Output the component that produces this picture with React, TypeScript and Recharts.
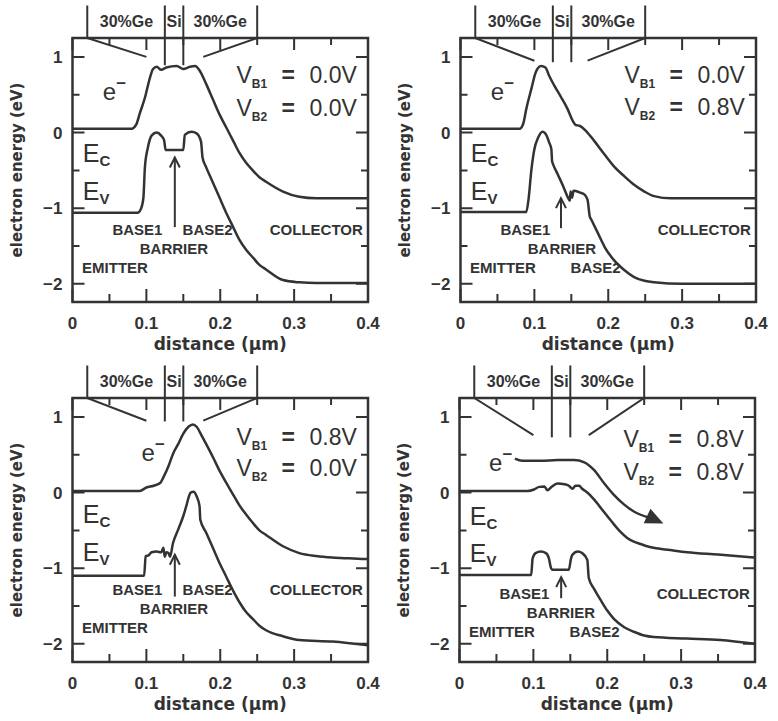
import React from "react";
import { Line, LineChart, ReferenceArea, ReferenceDot, ReferenceLine, XAxis, YAxis } from "recharts";

type Pair = [number, number];

// distance (um), energy (eV)
const ec1: Pair[] = [
  [0, 0.05], [0.08, 0.05], [0.086, 0.1], [0.091, 0.25], [0.098, 0.46], [0.105, 0.73], [0.109, 0.84],
  [0.114, 0.87], [0.12, 0.83], [0.127, 0.86], [0.141, 0.88], [0.15, 0.84], [0.159, 0.87], [0.166, 0.88],
  [0.172, 0.82], [0.181, 0.64], [0.19, 0.44], [0.199, 0.24], [0.208, 0.07], [0.217, -0.1], [0.226, -0.27],
  [0.235, -0.4], [0.244, -0.5], [0.253, -0.59], [0.262, -0.65], [0.285, -0.78], [0.307, -0.85], [0.33, -0.87],
  [0.4, -0.87],
];
const ev1: Pair[] = [
  [0, -1.06], [0.088, -1.06], [0.093, -1.0], [0.096, -0.86], [0.098, -0.46], [0.102, -0.2], [0.107, -0.04],
  [0.114, 0.0], [0.12, -0.04], [0.124, -0.1], [0.126, -0.23], [0.15, -0.23], [0.152, -0.03], [0.161, 0.01],
  [0.168, -0.01], [0.174, -0.12], [0.176, -0.33], [0.181, -0.46], [0.19, -0.66], [0.199, -0.86], [0.208, -1.06],
  [0.217, -1.24], [0.226, -1.42], [0.235, -1.55], [0.245, -1.66], [0.253, -1.75], [0.262, -1.81], [0.285, -1.95],
  [0.307, -1.98], [0.33, -1.99], [0.4, -1.99],
];
const ec2: Pair[] = [
  [0, 0.05], [0.08, 0.05], [0.085, 0.12], [0.089, 0.31], [0.096, 0.58], [0.102, 0.8], [0.109, 0.88],
  [0.115, 0.86], [0.12, 0.75], [0.127, 0.62], [0.136, 0.47], [0.145, 0.31], [0.152, 0.155], [0.156, 0.1],
  [0.161, 0.09], [0.17, 0.02], [0.181, -0.11], [0.195, -0.29], [0.208, -0.45], [0.222, -0.58], [0.235, -0.69],
  [0.249, -0.78], [0.262, -0.84], [0.285, -0.87], [0.4, -0.87],
];
const ev2: Pair[] = [
  [0, -1.05], [0.089, -1.05], [0.092, -0.89], [0.096, -0.49], [0.1, -0.22], [0.105, -0.07], [0.111, 0.01],
  [0.116, -0.03], [0.12, -0.13], [0.123, -0.22], [0.124, -0.38], [0.125, -0.41], [0.132, -0.56], [0.139, -0.71],
  [0.145, -0.85], [0.148, -0.9], [0.149, -0.78], [0.151, -0.86], [0.153, -0.77], [0.161, -0.79], [0.168, -0.82],
  [0.172, -0.89], [0.175, -1.11], [0.177, -1.15], [0.186, -1.33], [0.195, -1.51], [0.208, -1.69], [0.222, -1.82],
  [0.235, -1.91], [0.249, -1.96], [0.262, -1.98], [0.3, -2.0], [0.4, -2.0],
];
const ec3: Pair[] = [
  [0, 0.02], [0.091, 0.02], [0.1, 0.067], [0.11, 0.09], [0.119, 0.13], [0.123, 0.2], [0.13, 0.35],
  [0.136, 0.51], [0.143, 0.64], [0.15, 0.78], [0.157, 0.87], [0.163, 0.9], [0.168, 0.87], [0.175, 0.75],
  [0.181, 0.64], [0.19, 0.47], [0.199, 0.29], [0.208, 0.13], [0.217, -0.02], [0.226, -0.17], [0.235, -0.29],
  [0.244, -0.4], [0.253, -0.5], [0.262, -0.56], [0.285, -0.71], [0.307, -0.8], [0.33, -0.84], [0.352, -0.86],
  [0.374, -0.87], [0.4, -0.88],
];
const ev3: Pair[] = [
  [0, -1.1], [0.097, -1.1], [0.099, -0.84], [0.103, -0.83], [0.107, -0.79], [0.114, -0.78], [0.12, -0.79],
  [0.123, -0.73], [0.125, -0.85], [0.127, -0.79], [0.13, -0.8], [0.132, -0.85], [0.136, -0.67], [0.143, -0.49],
  [0.15, -0.31], [0.154, -0.18], [0.157, -0.07], [0.16, 0.0], [0.164, 0.01], [0.168, -0.05], [0.172, -0.18],
  [0.173, -0.36], [0.181, -0.53], [0.19, -0.73], [0.199, -0.93], [0.208, -1.11], [0.217, -1.29], [0.226, -1.45],
  [0.235, -1.58], [0.244, -1.67], [0.253, -1.76], [0.262, -1.82], [0.285, -1.9], [0.307, -1.95], [0.352, -1.97],
  [0.4, -2.02],
];
const ec4: Pair[] = [
  [0, 0.02], [0.092, 0.02], [0.101, 0.04], [0.108, 0.075], [0.115, 0.08], [0.119, 0.03], [0.124, 0.07],
  [0.133, 0.12], [0.142, 0.11], [0.148, 0.09], [0.153, 0.05], [0.157, 0.09], [0.162, 0.09], [0.166, 0.05],
  [0.173, 0.0], [0.182, -0.09], [0.191, -0.2], [0.2, -0.31], [0.209, -0.42], [0.218, -0.52], [0.227, -0.6],
  [0.236, -0.65], [0.245, -0.68], [0.254, -0.71], [0.263, -0.73], [0.285, -0.76], [0.308, -0.79], [0.35, -0.82],
  [0.4, -0.86],
];
const ev4: Pair[] = [
  [0, -1.09], [0.097, -1.09], [0.099, -0.87], [0.103, -0.8], [0.11, -0.78], [0.117, -0.8], [0.121, -0.87],
  [0.124, -1.0], [0.126, -1.02], [0.148, -1.02], [0.151, -0.87], [0.153, -0.82], [0.16, -0.78], [0.166, -0.8],
  [0.173, -0.89], [0.175, -1.13], [0.182, -1.27], [0.191, -1.42], [0.2, -1.56], [0.209, -1.67], [0.223, -1.78],
  [0.236, -1.84], [0.25, -1.89], [0.263, -1.91], [0.308, -1.93], [0.353, -1.95], [0.4, -2.0],
];
// electron path drawn in the last panel
const path4: Pair[] = [
  [0.075, 0.45], [0.085, 0.42], [0.11, 0.42], [0.133, 0.43], [0.155, 0.43], [0.169, 0.4], [0.182, 0.3],
  [0.196, 0.12], [0.209, -0.03], [0.223, -0.16], [0.236, -0.25], [0.256, -0.33],
];
const path4Tip: Pair = [0.276, -0.41];

// Ge grading marks at the top of each panel
const geLeft1: Pair[] = [[0.02, 1.25], [0.1, 1.0]];
const geRight1: Pair[] = [[0.177, 1.0], [0.25, 1.25]];
const geLeft2: Pair[] = [[0.02, 1.25], [0.1, 0.95]];
const geRight2: Pair[] = [[0.172, 0.95], [0.25, 1.25]];
const geLeft3: Pair[] = [[0.02, 1.25], [0.1, 0.95]];
const geRight3: Pair[] = [[0.177, 0.95], [0.25, 1.25]];
const geLeft4: Pair[] = [[0.02, 1.25], [0.1, 0.76]];
const geRight4: Pair[] = [[0.175, 0.76], [0.25, 1.25]];
const layerEdges = [0.02, 0.125, 0.15, 0.25];
const layerNames = ["30%Ge", "Si", "30%Ge"];
const layerCenters = [0.073, 0.1375, 0.2];

const biasB1 = ["0.0V", "0.0V", "0.8V", "0.8V"];
const biasB2 = ["0.0V", "0.8V", "0.0V", "0.8V"];

const xTicks = [0, 0.05, 0.1, 0.15, 0.2, 0.25, 0.3, 0.35, 0.4];
const yTicks = [-2, -1.5, -1, -0.5, 0, 0.5, 1];
const xDomain: Pair = [0, 0.4];
const yDomain: Pair = [-2.24, 1.25];

const toPts = (a: Pair[]) => a.map(([x, y]) => ({ x, y }));

const INK = "#333";
const FONT = "'Liberation Sans', Arial, Helvetica, sans-serif";
const TITLE_FONT = "'DejaVu Sans', Verdana, sans-serif";
const M = 10;
const TOP = 1.68;

const isMajorX = (v: number) => Math.abs(v * 10 - Math.round(v * 10)) < 1e-6;
const fmtX = (v: number) => (v === 0 ? "0" : v.toFixed(1));
const fmtY = (v: number) => (v < 0 ? "\u2212" + Math.abs(v) : String(v));

// tick labels only; the tick marks are drawn by reference lines below
const BottomTick = (p: any) => {
  const v = p.payload.value;
  if (!isMajorX(v)) return <g />;
  return (
    <text x={p.x} y={p.y - M + 27} textAnchor="middle" fontSize={17} fontWeight="bold" fontFamily={FONT} fill={INK}>
      {fmtX(v)}
    </text>
  );
};
const LeftTick = (p: any) => {
  const v = p.payload.value;
  if (!Number.isInteger(v)) return <g />;
  return (
    <text x={p.x + M - 10} y={p.y + 6} textAnchor="end" fontSize={17} fontWeight="bold" fontFamily={FONT} fill={INK}>
      {fmtY(v)}
    </text>
  );
};

// inward tick marks on both ends of a full-height / full-width reference line
const xMark = (major: boolean) => (p: any) => {
  const top = Math.min(p.y1, p.y2);
  const bot = Math.max(p.y1, p.y2);
  return (
    <path
      d={`M${p.x1},${bot}V${bot - (major ? 13 : 8)}M${p.x1},${top}V${top + (major ? 12 : 7)}`}
      stroke={INK} strokeWidth={2} fill="none"
    />
  );
};
const yMark = (major: boolean) => (p: any) => {
  const l = Math.min(p.x1, p.x2);
  const r = Math.max(p.x1, p.x2);
  const len = major ? 12 : 7;
  return <path d={`M${l},${p.y1}H${l + len}M${r},${p.y1}H${r - len}`} stroke={INK} strokeWidth={2} fill="none" />;
};

const word = (txt: string, size = 15, anchor = "start") => (p: any) => (
  <text x={p.cx} y={p.cy} fontSize={size} fontWeight="bold" fontFamily={FONT} fill={INK} textAnchor={anchor}>
    {txt}
  </text>
);
const band = (main: string, sub: string) => (p: any) => (
  <text x={p.cx} y={p.cy} fontSize={25} fontFamily={FONT} fill={INK}>
    {main}
    <tspan fontSize={15} fontWeight="bold" dy={4}>{sub}</tspan>
  </text>
);
const electron = (p: any) => (
  <text x={p.cx} y={p.cy} fontSize={24} fontFamily={FONT} fill={INK}>
    e<tspan fontSize={17} fontWeight="bold" dy={-11}>{"\u2212"}</tspan>
  </text>
);
const bias = (n: string, v: string) => (p: any) => (
  <text x={p.cx} y={p.cy} fontSize={23} fontFamily={FONT} fill={INK}>
    V
    <tspan fontSize={12} fontWeight="bold" dy={5}>{"B" + n}</tspan>
    <tspan x={p.cx + 45} dy={-5} fontWeight="bold">=</tspan>
    <tspan x={p.cx + 73}>{v}</tspan>
  </text>
);
const upArrow = (p: any) => (
  <g stroke={INK} strokeWidth={2} fill="none">
    <line x1={p.x1} y1={p.y1} x2={p.x2} y2={p.y2} />
    <polyline points={`${p.x2 - 5},${p.y2 + 10} ${p.x2},${p.y2} ${p.x2 + 5},${p.y2 + 10}`} />
  </g>
);
const arrowHead = (p: any) => {
  const a = (25 * Math.PI) / 180;
  const L = 18;
  const W = 8;
  const bx = p.cx - L * Math.cos(a);
  const by = p.cy - L * Math.sin(a);
  const pts = [
    [p.cx, p.cy],
    [bx - W * Math.sin(a), by + W * Math.cos(a)],
    [bx + W * Math.sin(a), by - W * Math.cos(a)],
  ];
  return <polygon points={pts.map((q) => q.join(",")).join(" ")} fill={INK} />;
};

type Spec = {
  ec: Pair[];
  ev: Pair[];
  geL: Pair[];
  geR: Pair[];
  edgeLow: number;
  b1: string;
  b2: string;
  e: Pair;
  ecY: number;
  evY: number;
  vb1Y: number;
  vb2Y: number;
  rowDy: number;
  base2Low: boolean;
  arrow: [number, number, number];
  path?: Pair[];
};

const specs: Spec[] = [
  { ec: ec1, ev: ev1, geL: geLeft1, geR: geRight1, edgeLow: 0.89, b1: biasB1[0], b2: biasB2[0], e: [0.041, 0.435],
    ecY: -0.39, evY: -0.89, vb1Y: 0.66, vb2Y: 0.214, rowDy: 0, base2Low: false, arrow: [0.1385, -1.25, -0.33] },
  { ec: ec2, ev: ev2, geL: geLeft2, geR: geRight2, edgeLow: 0.93, b1: biasB1[1], b2: biasB2[1], e: [0.041, 0.435],
    ecY: -0.39, evY: -0.89, vb1Y: 0.657, vb2Y: 0.237, rowDy: 0, base2Low: true, arrow: [0.136, -1.264, -0.867] },
  { ec: ec3, ev: ev3, geL: geLeft3, geR: geRight3, edgeLow: 0.94, b1: biasB1[2], b2: biasB2[2], e: [0.0935, 0.413],
    ecY: -0.4, evY: -0.9, vb1Y: 0.634, vb2Y: 0.214, rowDy: 0, base2Low: false, arrow: [0.1385, -1.375, -0.823] },
  { ec: ec4, ev: ev4, geL: geLeft4, geR: geRight4, edgeLow: 0.73, b1: biasB1[3], b2: biasB2[3], e: [0.04, 0.29],
    ecY: -0.43, evY: -0.92, vb1Y: 0.604, vb2Y: 0.161, rowDy: -0.05, base2Low: true, arrow: [0.1376, -1.396, -1.118],
    path: path4 },
];

const ids = { xAxisId: "b", yAxisId: "l" } as const;

function BandPanel({ s }: { s: Spec }) {
  const row1 = -1.353 + s.rowDy;
  const row2 = -1.604 + s.rowDy;
  const row3 = -1.856 + s.rowDy;
  const notes: [number, number, (p: any) => React.ReactElement][] = [
    [s.e[0], s.e[1], electron],
    [0.014, s.ecY, band("E", "C")],
    [0.014, s.evY, band("E", "V")],
    [0.222, s.vb1Y, bias("1", s.b1)],
    [0.222, s.vb2Y, bias("2", s.b2)],
    [0.054, row1, word("BASE1")],
    [0.149, s.base2Low ? row3 : row1, word("BASE2")],
    [0.091, row2, word("BARRIER")],
    [0.267, row1, word("COLLECTOR")],
    [0.013, row3, word("EMITTER")],
    ...layerNames.map((n, i) => [layerCenters[i], 1.39, word(n, 16, "middle")] as [number, number, (p: any) => React.ReactElement]),
  ];
  return (
    <LineChart width={389} height={360} margin={{ top: 38, right: 21, bottom: 0, left: 0 }}>
      <XAxis
        xAxisId="b" type="number" dataKey="x" domain={xDomain} ticks={xTicks} interval={0} allowDataOverflow
        height={58} tickSize={0} tickMargin={M} tickLine={false} axisLine={false} tick={(p: any) => <BottomTick {...p} />}
        label={{ value: "distance (\u03bcm)", position: "insideBottom", offset: 10, fontSize: 17, fontWeight: "bold", fontFamily: TITLE_FONT, fill: INK }}
      />
      <YAxis
        yAxisId="l" type="number" domain={yDomain} ticks={yTicks} interval={0} allowDataOverflow
        width={72.5} tickSize={0} tickMargin={M} tickLine={false} axisLine={false} tick={(p: any) => <LeftTick {...p} />}
        label={{ value: "electron energy (eV)", angle: -90, position: "insideLeft", offset: 17, style: { textAnchor: "middle" }, fontSize: 15, fontWeight: "bold", fontFamily: TITLE_FONT, fill: INK }}
      />

      {xTicks.map((v) => (
        <ReferenceLine key={"xt" + v} {...ids} x={v} ifOverflow="visible" shape={xMark(isMajorX(v))} />
      ))}
      {yTicks.map((v) => (
        <ReferenceLine key={"yt" + v} {...ids} y={v} ifOverflow="visible" shape={yMark(Number.isInteger(v))} />
      ))}
      <ReferenceArea
        {...ids} x1={xDomain[0]} x2={xDomain[1]} y1={yDomain[0]} y2={yDomain[1]} ifOverflow="visible"
        fill="none" fillOpacity={0} stroke={INK} strokeWidth={2.5} strokeOpacity={1}
      />

      {layerEdges.map((x, i) => (
        <ReferenceLine
          key={"edge" + i} {...ids} ifOverflow="visible" stroke={INK} strokeWidth={2}
          segment={[{ x, y: i === 0 || i === 3 ? 1.25 : s.edgeLow }, { x, y: TOP }]}
        />
      ))}
      {[s.geL, s.geR].map((g, i) => (
        <Line key={"ge" + i} {...ids} data={toPts(g)} dataKey="y" type="linear" stroke={INK} strokeWidth={2} dot={false} isAnimationActive={false} />
      ))}

      <Line {...ids} data={toPts(s.ec)} dataKey="y" type="monotone" stroke={INK} strokeWidth={2.5} dot={false} isAnimationActive={false} />
      <Line {...ids} data={toPts(s.ev)} dataKey="y" type="monotone" stroke={INK} strokeWidth={2.5} dot={false} isAnimationActive={false} />
      {s.path && (
        <Line {...ids} data={toPts(s.path)} dataKey="y" type="monotone" stroke={INK} strokeWidth={2.5} dot={false} isAnimationActive={false} />
      )}
      {s.path && <ReferenceDot {...ids} x={path4Tip[0]} y={path4Tip[1]} r={0} ifOverflow="visible" shape={arrowHead} />}

      <ReferenceLine
        {...ids} ifOverflow="visible" shape={upArrow}
        segment={[{ x: s.arrow[0], y: s.arrow[1] }, { x: s.arrow[0], y: s.arrow[2] }]}
      />
      {notes.map(([x, y, shape], i) => (
        <ReferenceDot key={"n" + i} {...ids} x={x} y={y} r={0} ifOverflow="visible" shape={shape} />
      ))}
    </LineChart>
  );
}

const cells = [
  { left: 0, top: 0 },
  { left: 388, top: 0 },
  { left: 0, top: 360 },
  { left: 387, top: 360 },
];

export default function App() {
  return (
    <div style={{ position: "absolute", left: 0, top: 0, width: 778, height: 721, background: "#fff" }}>
      {specs.map((s, i) => (
        <div key={i} style={{ position: "absolute", left: cells[i].left, top: cells[i].top }}>
          <BandPanel s={s} />
        </div>
      ))}
    </div>
  );
}
